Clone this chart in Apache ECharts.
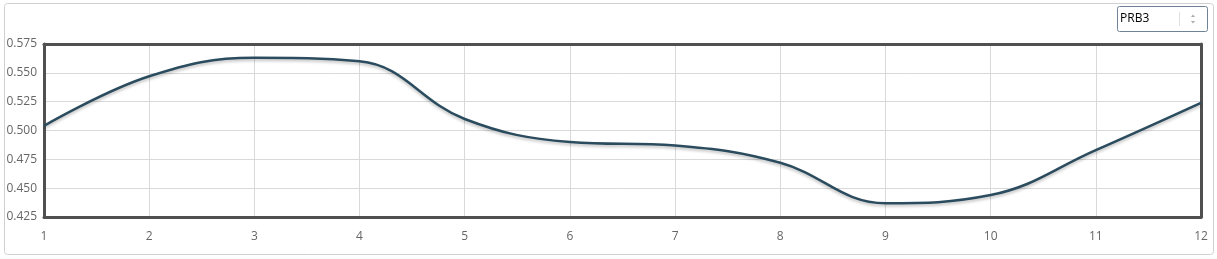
<!DOCTYPE html>
<html>
<head>
<meta charset="utf-8">
<script src="https://cdn.jsdelivr.net/npm/echarts@6/dist/echarts.min.js"></script>
<style>
html,body{margin:0;padding:0;background:#fff;}
#chart{width:1217px;height:259px;}
</style>
</head>
<body>
<div id="chart"></div>
<script>
var categories = ['1','2','3','4','5','6','7','8','9','10','11','12'];
var values = [0.504, 0.547, 0.563, 0.560, 0.510, 0.490, 0.487, 0.472, 0.437, 0.444, 0.483, 0.524];
var yTicks = [0.425, 0.450, 0.475, 0.500, 0.525, 0.550, 0.575];
var selectLabel = 'PRB3';

var chart = echarts.init(document.getElementById('chart'), null, {renderer:'canvas'});
var axisBorder = {show:true, lineStyle:{color:'#505050', width:3}};
chart.setOption({
  animation: false,
  textStyle: {fontFamily: '"Open Sans", sans-serif'},
  graphic: [
    {type:'rect', shape:{x:4.5,y:3.5,width:1209,height:251,r:3}, style:{fill:'none',stroke:'#d0d0d0',lineWidth:1}, silent:true},
    {type:'rect', shape:{x:1117.5,y:6.5,width:90,height:25,r:2}, style:{fill:'#fff',stroke:'#6f8296',lineWidth:1}, silent:true},
    {type:'text', x:1120, y:19, style:{text:selectLabel, fill:'#000', font:'12px "Open Sans", sans-serif', verticalAlign:'middle'}, silent:true},
    {type:'line', shape:{x1:1179.5,y1:12,x2:1179.5,y2:26}, style:{stroke:'#e0e0e0',lineWidth:1}, silent:true},
    {type:'polygon', shape:{points:[[1191,17],[1195,17],[1193,14.5]]}, style:{fill:'#aaa'}, silent:true},
    {type:'polygon', shape:{points:[[1191,21],[1195,21],[1193,23.5]]}, style:{fill:'#aaa'}, silent:true}
  ],
  grid: {left:44, right:16, top:44, bottom:42},
  xAxis: [{
    type:'category', data:categories, boundaryGap:false, position:'bottom',
    axisLine:axisBorder, axisTick:{show:false},
    axisLabel:{color:'#666', fontSize:12, margin:14},
    splitLine:{show:true, lineStyle:{color:'#d9d9d9', width:1}}
  },{
    type:'category', data:categories, boundaryGap:false, position:'top',
    axisLine:axisBorder, axisTick:{show:false}, axisLabel:{show:false}, splitLine:{show:false}
  }],
  yAxis: [{
    type:'value', min:yTicks[0], max:yTicks[yTicks.length-1], interval:0.025, position:'left',
    axisLine:axisBorder, axisTick:{show:false},
    axisLabel:{color:'#666', fontSize:12, margin:7, formatter:function(v){return v.toFixed(3);}},
    splitLine:{show:true, lineStyle:{color:'#d9d9d9', width:1}}
  },{
    type:'value', min:yTicks[0], max:yTicks[yTicks.length-1], interval:0.025, position:'right',
    axisLine:axisBorder, axisTick:{show:false}, axisLabel:{show:false}, splitLine:{show:false}
  }],
  series: [{
    type:'line', data:values, smooth:0.4, symbol:'none',
    lineStyle:{color:'#2b4c5e', width:2.5, shadowColor:'rgba(0,0,0,0.25)', shadowBlur:3, shadowOffsetY:2}
  }]
});
</script>
</body>
</html>
